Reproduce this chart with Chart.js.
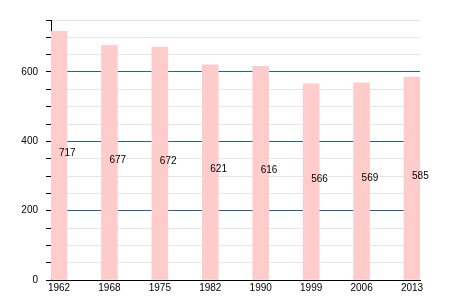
<!DOCTYPE html>
<html>
<head>
<meta charset="utf-8">
<script src="https://cdn.jsdelivr.net/npm/chart.js@4"></script>
<style>
html,body{margin:0;padding:0;background:#fff;}
#wrap{width:450px;height:300px;}
</style>
</head>
<body>
<div id="wrap"><canvas id="c" width="450" height="300"></canvas></div>
<script>
const years = ["1962","1968","1975","1982","1990","1999","2006","2013"];
const population = [717, 677, 672, 621, 616, 566, 569, 585];
const yLabelTicks = [0, 200, 400, 600];
const majorGrid = [200, 400, 600];

const FONT = "'Liberation Sans', Arial, sans-serif";

const valueLabels = {
  id: 'valueLabels',
  afterDatasetsDraw(chart) {
    const ctx = chart.ctx;
    const meta = chart.getDatasetMeta(0);
    const ys = chart.scales.y;
    ctx.save();
    ctx.font = "10px " + FONT;
    ctx.fillStyle = "#000";
    ctx.textAlign = "left";
    ctx.textBaseline = "alphabetic";
    meta.data.forEach((bar, i) => {
      const v = population[i];
      ctx.fillText(String(v), bar.x, ys.getPixelForValue(v / 2));
    });
    ctx.restore();
  }
};

new Chart(document.getElementById('c'), {
  type: 'bar',
  data: {
    datasets: [{
      data: population.map((v, i) => ({x: i, y: v})),
      backgroundColor: '#ffcccc',
      borderWidth: 0,
      barThickness: 16
    }]
  },
  options: {
    responsive: false,
    animation: false,
    events: [],
    layout: {padding: {left: 0, top: 20, right: 30, bottom: 0}},
    plugins: {legend: {display: false}, tooltip: {enabled: false}},
    scales: {
      x: {
        type: 'linear',
        min: -0.1586,
        max: 7.1586,
        offset: false,
        afterBuildTicks(scale) {
          scale.ticks = years.map((_, i) => ({value: i}));
        },
        afterFit(scale) { scale.height = 20; },
        ticks: {
          autoSkip: false,
          maxRotation: 0,
          padding: 2,
          color: '#000',
          font: {family: FONT, size: 10},
          callback: (v) => years[v] !== undefined ? years[v] : ''
        },
        grid: {display: false, drawTicks: false},
        border: {display: true, color: '#000', width: 1}
      },
      y: {
        min: 0,
        max: 750,
        afterFit(scale) { scale.width = 51; },
        ticks: {
          stepSize: 50,
          padding: 8,
          color: '#000',
          font: {family: FONT, size: 10},
          callback: (v) => yLabelTicks.includes(Math.round(v)) ? String(Math.round(v)) : ''
        },
        grid: {
          drawTicks: true,
          tickLength: 5,
          tickColor: '#000',
          color: (c) => (c.tick && majorGrid.includes(Math.round(c.tick.value))) ? '#1f63a6' : '#e6e6e6',
          lineWidth: 1
        },
        border: {display: true, color: '#000', width: 1}
      }
    }
  },
  plugins: [valueLabels]
});
</script>
</body>
</html>
